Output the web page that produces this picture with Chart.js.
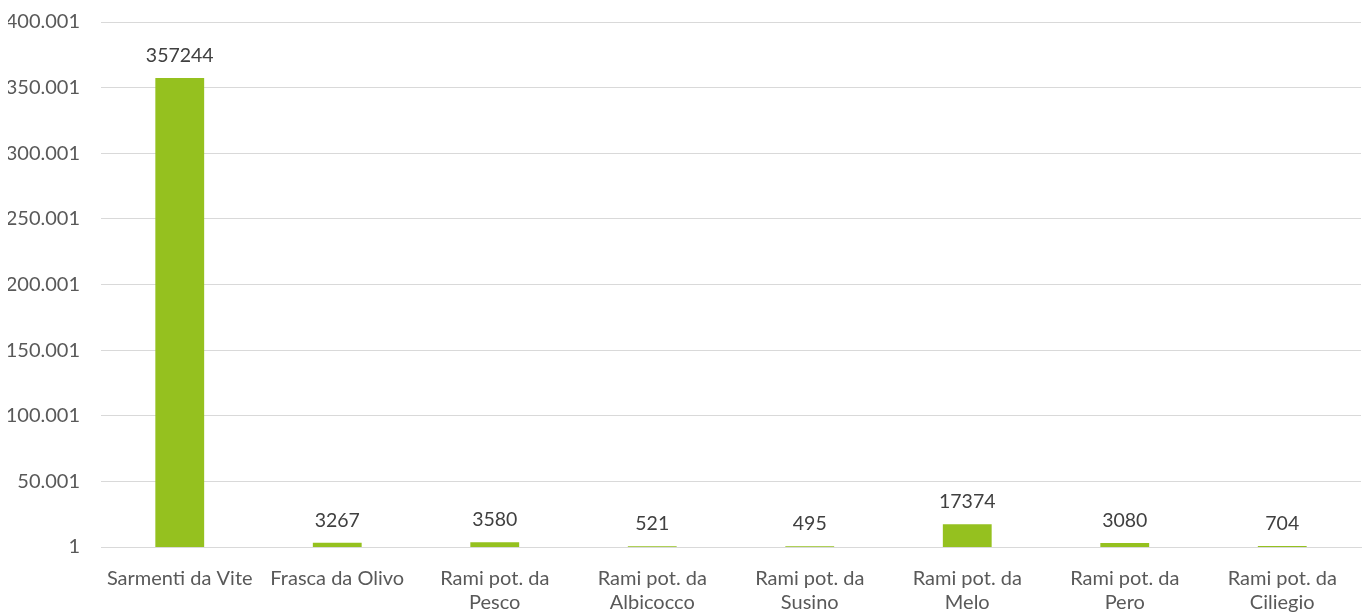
<!DOCTYPE html>
<html>
<head>
<meta charset="utf-8">
<script src="https://cdn.jsdelivr.net/npm/chart.js@4/dist/chart.umd.min.js"></script>
<style>
  html, body { margin: 0; padding: 0; background: #ffffff; }
  #wrap { width: 1362px; height: 615px; }
</style>
</head>
<body>
<div id="wrap"><canvas id="c" width="1362" height="615"></canvas></div>
<script>
// Categories (multi-line labels as arrays)
const categories = [
  'Sarmenti da Vite',
  'Frasca da Olivo',
  ['Rami pot. da', 'Pesco'],
  ['Rami pot. da', 'Albicocco'],
  ['Rami pot. da', 'Susino'],
  ['Rami pot. da', 'Melo'],
  ['Rami pot. da', 'Pero'],
  ['Rami pot. da', 'Ciliegio']
];
const values = [357244, 3267, 3580, 521, 495, 17374, 3080, 704];

// Y axis range
const yMin = 1;
const yMax = 400001;
const yStep = 50000;

const FONT = 'Lato, "Open Sans", sans-serif';

function fmtThousands(v) {
  return String(Math.round(v)).replace(/\B(?=(\d{3})+(?!\d))/g, '.');
}

// Value labels above each bar
const valueLabels = {
  id: 'valueLabels',
  afterDatasetsDraw(chart) {
    const ctx = chart.ctx;
    const meta = chart.getDatasetMeta(0);
    ctx.save();
    ctx.font = '19.5px ' + FONT;
    ctx.fillStyle = '#404040';
    ctx.textAlign = 'center';
    ctx.textBaseline = 'alphabetic';
    meta.data.forEach((bar, i) => {
      ctx.fillText(String(values[i]), bar.x, bar.y - 16);
    });
    ctx.restore();
  }
};

new Chart(document.getElementById('c'), {
  type: 'bar',
  data: {
    labels: categories,
    datasets: [{
      data: values,
      backgroundColor: '#95c11f',
      borderWidth: 0,
      barPercentage: 0.31,
      categoryPercentage: 1
    }]
  },
  options: {
    responsive: false,
    animation: false,
    layout: { padding: { left: 8, right: 1, top: 22, bottom: 0 } },
    plugins: {
      legend: { display: false },
      tooltip: { enabled: false }
    },
    scales: {
      x: {
        afterFit(axis) {
          // tick padding counts only once, below the axis line
          axis.height -= 20;
          axis.paddingLeft = 0;
          axis.paddingRight = 0;
        },
        grid: { display: false, drawTicks: false },
        border: { display: true, color: '#d9d9d9', width: 1 },
        ticks: {
          color: '#595959',
          font: { family: FONT, size: 20, lineHeight: 1.2 },
          padding: 20,
          maxRotation: 0,
          autoSkip: false
        }
      },
      y: {
        min: yMin,
        max: yMax,
        afterBuildTicks(axis) {
          const t = [];
          for (let v = yMin; v <= yMax; v += yStep) t.push({ value: v });
          axis.ticks = t;
        },
        afterFit(axis) {
          axis.width = 93;
          axis.paddingTop = 0;
          axis.paddingBottom = 0;
        },
        grid: { color: '#d9d9d9', lineWidth: 1, drawTicks: false },
        border: { display: false },
        ticks: {
          color: '#595959',
          font: { family: FONT, size: 20 },
          padding: 21,
          callback: (v) => fmtThousands(v)
        }
      }
    }
  },
  plugins: [valueLabels]
});
</script>
</body>
</html>
